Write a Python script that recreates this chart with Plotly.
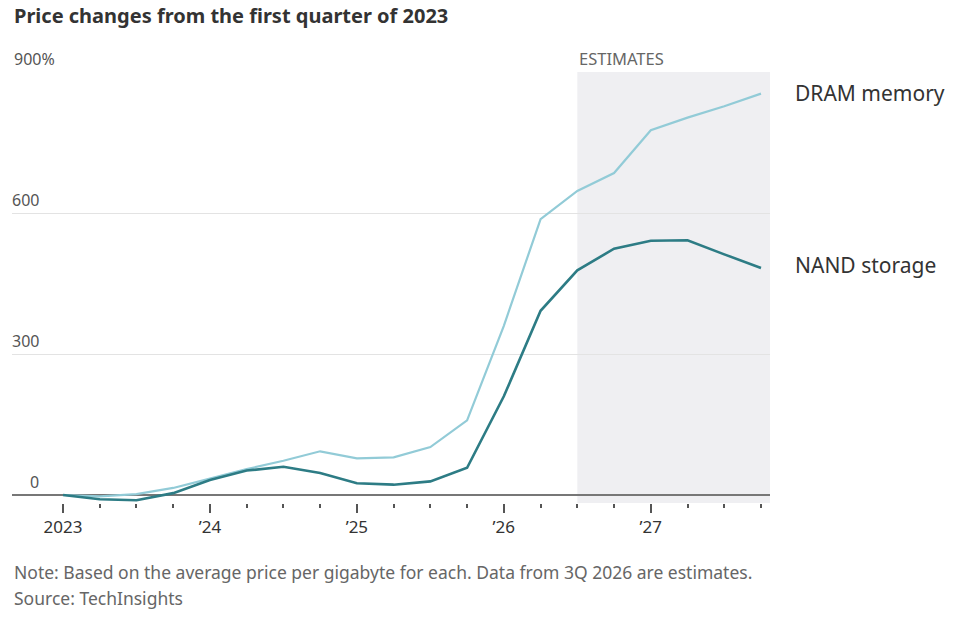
import plotly.graph_objects as go

quarters = ["1Q23","2Q23","3Q23","4Q23","1Q24","2Q24","3Q24","4Q24","1Q25","2Q25",
            "3Q25","4Q25","1Q26","2Q26","3Q26","4Q26","1Q27","2Q27","3Q27","4Q27"]
dram = [0, -3, 2, 15, 35, 55, 73, 93, 78, 80, 102, 159, 360, 587, 647, 685, 776, 803, 827, 854]
nand = [0, -9, -11, 4, 32, 52, 60, 47, 25, 22, 29, 58, 210, 392, 478, 524, 541, 542, 512, 483]
year_ticks = [0, 4, 8, 12, 16]
year_labels = ["2023", "’24", "’25", "’26", "’27"]
y_ticks = [0, 300, 600, 900]
y_labels = ["0", "300", "600", "900%"]
estimate_start = 14

FONT = "Noto Sans"
x = list(range(len(quarters)))

fig = go.Figure()
fig.add_trace(go.Scatter(x=x, y=dram, mode="lines", line=dict(color="#92cbd7", width=2.2),
                         name="DRAM memory", hoverinfo="skip"))
fig.add_trace(go.Scatter(x=x, y=nand, mode="lines", line=dict(color="#2d7c85", width=2.6),
                         name="NAND storage", hoverinfo="skip"))

fig.add_shape(type="rect", xref="x", yref="paper", x0=estimate_start, x1=19.245, y0=0, y1=1,
              fillcolor="#efeff2", line=dict(width=0), layer="below")

annotations = []
for v, t in zip(y_ticks, y_labels):
    if t.endswith("%"):
        annotations.append(dict(xref="paper", yref="y", x=0, y=v, text=t, showarrow=False,
                                xanchor="left", yanchor="bottom", yshift=0,
                                font=dict(family=FONT, size=16, color="#555")))
    else:
        annotations.append(dict(xref="paper", yref="y", x=0, y=v, text=t, showarrow=False,
                                xanchor="right", yanchor="bottom", yshift=0, xshift=29,
                                font=dict(family=FONT, size=16, color="#555")))
annotations.append(dict(xref="x", yref="y", x=estimate_start, y=900, text="ESTIMATES",
                        showarrow=False, xanchor="left", yanchor="bottom", yshift=0,
                        font=dict(family=FONT, size=16.5, color="#666")))
annotations.append(dict(xref="x", yref="y", x=x[-1], y=dram[-1], text="DRAM memory",
                        showarrow=False, xanchor="left", yanchor="middle", xshift=32, yshift=1,
                        font=dict(family=FONT, size=21, color="#333")))
annotations.append(dict(xref="x", yref="y", x=x[-1], y=nand[-1], text="NAND storage",
                        showarrow=False, xanchor="left", yanchor="middle", xshift=32, yshift=3,
                        font=dict(family=FONT, size=21, color="#333")))
annotations.append(dict(xref="paper", yref="paper", x=0, y=1, yshift=57,
                        text="<b>Price changes from the first quarter of 2023</b>",
                        showarrow=False, xanchor="left", yanchor="middle",
                        font=dict(family=FONT, size=20, color="#333")))
annotations.append(dict(xref="paper", yref="paper", x=0, y=0, yshift=-69,
                        text="Note: Based on the average price per gigabyte for each. Data from 3Q 2026 are estimates.",
                        showarrow=False, xanchor="left", yanchor="middle",
                        font=dict(family=FONT, size=17.5, color="#666")))
annotations.append(dict(xref="paper", yref="paper", x=0, y=0, yshift=-95,
                        text="Source: TechInsights",
                        showarrow=False, xanchor="left", yanchor="middle",
                        font=dict(family=FONT, size=17.5, color="#666")))

fig.update_layout(
    width=956, height=617,
    margin=dict(l=12, r=186, t=72, b=114),
    paper_bgcolor="white", plot_bgcolor="white",
    showlegend=False,
    annotations=annotations,
    xaxis=dict(range=[-1.388, 19.245], tickmode="array", tickvals=year_ticks, ticktext=year_labels,
               ticks="outside", ticklen=9, tickwidth=2, tickcolor="#555",
               minor=dict(tickmode="array", tickvals=x, ticks="outside", ticklen=4, tickwidth=2, tickcolor="#555"),
               showgrid=False, showline=False, zeroline=False,
               tickfont=dict(family=FONT, size=17, color="#333")),
    yaxis=dict(range=[-17, 900], tickvals=y_ticks, showticklabels=False,
               showgrid=True, gridcolor="#e3e3e3", gridwidth=1,
               zeroline=True, zerolinecolor="#777", zerolinewidth=2, showline=False),
)

fig.write_html("out.html")
